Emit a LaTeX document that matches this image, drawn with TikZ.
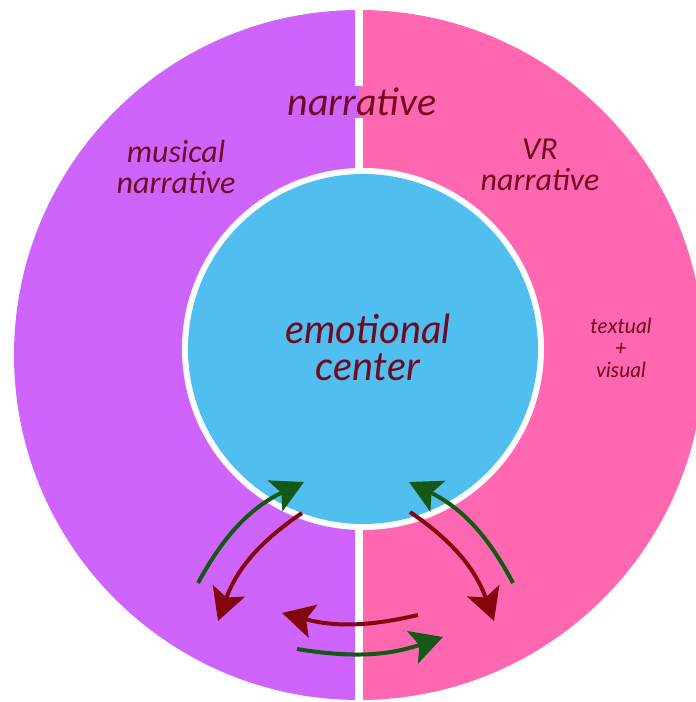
\documentclass[tikz,border=0pt]{standalone}
\usepackage{fontspec}
\usetikzlibrary{arrows.meta}
\newfontfamily\calfont{Carlito}
\newfontfamily\latofont{Lato}
\definecolor{purp}{RGB}{206,100,252}
\definecolor{pinkr}{RGB}{255,104,176}
\definecolor{bluec}{RGB}{80,190,238}
\definecolor{txtred}{RGB}{112,10,34}
\definecolor{arrgreen}{RGB}{20,88,22}
\definecolor{arrred}{RGB}{130,6,12}
\begin{document}
\begin{tikzpicture}[x=1pt,y=1pt,
  lbl/.style={text=txtred, align=center, inner sep=0pt},
  toplbl/.style={lbl, font=\calfont\itshape\fontsize{32}{31}\selectfont},
  ctrlbl/.style={lbl, font=\latofont\itshape\fontsize{40}{37}\selectfont},
  smalllbl/.style={lbl, font=\latofont\itshape\fontsize{21}{22}\selectfont},
  garr/.style={draw=arrgreen, line width=4pt, -{Stealth[length=32pt,width=34pt,inset=7pt]}},
  rarr/.style={draw=arrred, line width=4pt, -{Stealth[length=32pt,width=34pt,inset=7pt]}}]
\useasboundingbox (0,0) rectangle (696,702);
\coordinate (oc) at (359,347);
% outer halves
\fill[purp] (oc) ++(90:345) arc[start angle=90,end angle=270,radius=345] -- cycle;
\fill[pinkr] (oc) ++(-90:345) arc[start angle=-90,end angle=90,radius=345] -- cycle;
% divider
\draw[white, line width=8pt] (359,702) -- (359,616);
\draw[white, line width=8pt] (359,584) -- (359,0);
% inner circle
\node[circle, fill=white, minimum size=362pt, inner sep=0pt] (ring) at (363,353) {};
\node[circle, fill=bluec, minimum size=350pt, inner sep=0pt] (core) at (363,353) {};
% labels
\node[toplbl, font=\calfont\itshape\fontsize{40}{40}\selectfont] (nar) at (362,600) {narrative};
\node[toplbl] (mus) at (176,535) {musical\\narrative};
\node[toplbl] (vr) at (540,537) {VR\\narrative};
\node[ctrlbl] (emo) at (368,355) {emotional\\center};
\node[smalllbl] (tv) at (621,354) {textual\\+\\visual};
% arrow end points
\coordinate (gl1) at (198,119); \coordinate (gl2) at (304,220);
\coordinate (rl1) at (302,189); \coordinate (rl2) at (218,81);
\coordinate (rb1) at (418,87);  \coordinate (rb2) at (282,89);
\coordinate (gb1) at (297,53);  \coordinate (gb2) at (443,65);
\coordinate (rr1) at (410,190); \coordinate (rr2) at (494,81);
\coordinate (gr1) at (513,119); \coordinate (gr2) at (409,220);
\draw[garr] (gl1) to[bend left=18] (gl2);
\draw[rarr] (rl1) to[bend right=18] (rl2);
\draw[rarr] (rb1) to[bend left=14] (rb2);
\draw[garr] (gb1) to[bend right=14] (gb2);
\draw[rarr] (rr1) to[bend left=18] (rr2);
\draw[garr] (gr1) to[bend right=18] (gr2);
\end{tikzpicture}
\end{document}
